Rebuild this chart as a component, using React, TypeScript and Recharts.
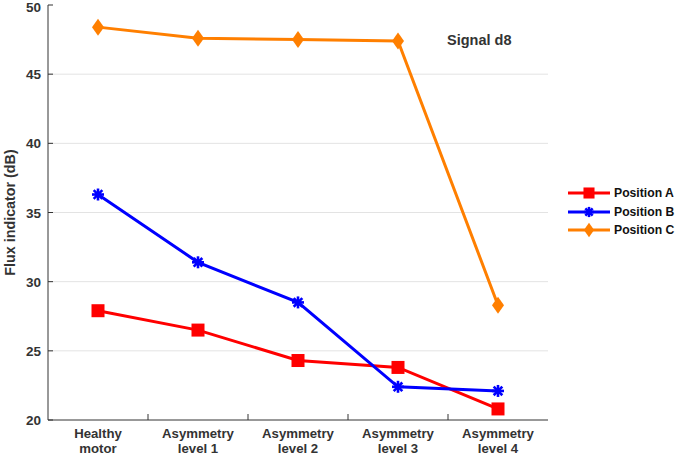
import React from "react";
import { LineChart, Line, XAxis, YAxis, CartesianGrid } from "recharts";

const categories = [
  ["Healthy", "motor"],
  ["Asymmetry", "level 1"],
  ["Asymmetry", "level 2"],
  ["Asymmetry", "level 3"],
  ["Asymmetry", "level 4"],
];
const positionA = [27.9, 26.5, 24.3, 23.8, 20.8];
const positionB = [36.3, 31.4, 28.5, 22.4, 22.1];
const positionC = [48.4, 47.6, 47.5, 47.4, 28.3];
const yTicks = [20, 25, 30, 35, 40, 45, 50];
const gridTicks = [25, 30, 35, 40, 45];
// x ticks: integer = category label, half = separator mark
const xTicks = [0, 0.5, 1, 1.5, 2, 2.5, 3, 3.5, 4];
const separators = [0.5, 1.5, 2.5, 3.5];

const FONT = '"Liberation Sans", Arial, Helvetica, sans-serif';
const TEXT = "#333333";
const FRAME = "#333333";

const data = categories.map((c, i) => ({
  x: i,
  A: positionA[i],
  B: positionB[i],
  C: positionC[i],
}));

type Shape = "square" | "asterisk" | "diamond";

const series: { key: "A" | "B" | "C"; name: string; color: string; shape: Shape }[] = [
  { key: "A", name: "Position A", color: "#ff0000", shape: "square" },
  { key: "B", name: "Position B", color: "#0000ff", shape: "asterisk" },
  { key: "C", name: "Position C", color: "#ff7f00", shape: "diamond" },
];

function Marker({ cx, cy, color, shape, scale = 1 }: { cx: number; cy: number; color: string; shape: Shape; scale?: number }) {
  if (shape === "square") {
    const s = 13 * scale;
    return <rect x={cx - s / 2} y={cy - s / 2} width={s} height={s} fill={color} />;
  }
  if (shape === "diamond") {
    const w = 6 * scale;
    const h = 8.5 * scale;
    return (
      <polygon
        points={`${cx},${cy - h} ${cx + w},${cy} ${cx},${cy + h} ${cx - w},${cy}`}
        fill={color}
      />
    );
  }
  const r = 6 * scale;
  const d = r * 0.72;
  return (
    <g stroke={color} strokeWidth={2.6} strokeLinecap="butt">
      <line x1={cx - r} y1={cy} x2={cx + r} y2={cy} />
      <line x1={cx} y1={cy - r} x2={cx} y2={cy + r} />
      <line x1={cx - d} y1={cy - d} x2={cx + d} y2={cy + d} />
      <line x1={cx - d} y1={cy + d} x2={cx + d} y2={cy - d} />
      <circle cx={cx} cy={cy} r={3} fill={color} stroke="none" />
    </g>
  );
}

function BottomTick(props: any) {
  const { x, y, payload } = props;
  const v = payload.value as number;
  if (separators.includes(v)) {
    return <line x1={x} x2={x} y1={y} y2={y - 6} stroke={FRAME} strokeWidth={1} />;
  }
  const [l1, l2] = categories[v];
  return (
    <g>
      <text x={x} y={y + 18} textAnchor="middle" fill={TEXT} fontSize={13.2} fontWeight="bold" fontFamily={FONT}>
        {l1}
      </text>
      <text x={x} y={y + 33} textAnchor="middle" fill={TEXT} fontSize={13.2} fontWeight="bold" fontFamily={FONT}>
        {l2}
      </text>
    </g>
  );
}

function TopTick(props: any) {
  const { x, y } = props;
  return <line x1={x} x2={x} y1={y} y2={y + 6} stroke={FRAME} strokeWidth={1} />;
}

function LeftTick(props: any) {
  const { x, y, payload } = props;
  // keep the top label inside the canvas
  const baseline = Math.max(y + 5, 12);
  return (
    <g>
      <line x1={x} x2={x + 5} y1={y} y2={y} stroke={FRAME} strokeWidth={1} />
      <text x={x - 7} y={baseline} textAnchor="end" fill={TEXT} fontSize={13.5} fontWeight="bold" fontFamily={FONT}>
        {payload.value}
      </text>
    </g>
  );
}

export default function App() {
  return (
    <div style={{ position: "absolute", left: 0, top: 0, width: 676, height: 462, background: "#fff", fontFamily: FONT }}>
      <LineChart width={676} height={462} data={data} margin={{ top: 5, right: 128, bottom: 0, left: 0 }}>
        <CartesianGrid horizontal vertical={false} horizontalValues={gridTicks} stroke="#e3e3e3" />
        <XAxis
          dataKey="x"
          type="number"
          domain={[-0.5, 4.5]}
          ticks={xTicks}
          interval={0}
          height={42}
          tickSize={0}
          tickMargin={0}
          tickLine={false}
          axisLine={{ stroke: FRAME }}
          tick={<BottomTick />}
          allowDataOverflow
        />
        <XAxis
          xAxisId="top"
          orientation="top"
          dataKey="x"
          type="number"
          domain={[-0.5, 4.5]}
          ticks={separators}
          interval={0}
          height={0}
          tickSize={0}
          tickMargin={0}
          tickLine={false}
          axisLine={{ stroke: FRAME }}
          tick={<TopTick />}
        />
        <YAxis
          domain={[20, 50]}
          ticks={yTicks}
          interval={0}
          width={48}
          tickSize={0}
          tickMargin={0}
          tickLine={false}
          axisLine={{ stroke: FRAME }}
          tick={<LeftTick />}
          label={{
            value: "Flux indicator (dB)",
            angle: -90,
            position: "insideLeft",
            offset: 10,
            style: { textAnchor: "middle", fontSize: 14.3, fontWeight: "bold", fill: TEXT, fontFamily: FONT },
          }}
        />
        <YAxis
          yAxisId="right"
          orientation="right"
          domain={[20, 50]}
          width={0}
          tick={false}
          tickLine={false}
          axisLine={{ stroke: FRAME }}
        />
        {series.map((s) => (
          <Line
            key={s.key}
            dataKey={s.key}
            name={s.name}
            stroke={s.color}
            strokeWidth={3}
            isAnimationActive={false}
            dot={(p: any) => (
              <Marker key={`${s.key}-${p.index}`} cx={p.cx} cy={p.cy} color={s.color} shape={s.shape} />
            )}
            activeDot={false}
          />
        ))}
      </LineChart>

      <div
        style={{
          position: "absolute",
          left: 447,
          top: 32,
          fontSize: 14.5,
          fontWeight: "bold",
          color: TEXT,
          whiteSpace: "nowrap",
        }}
      >
        Signal d8
      </div>

      <div style={{ position: "absolute", left: 566, top: 184 }}>
        {series.map((s) => (
          <div key={s.key} style={{ display: "flex", alignItems: "center", height: 18.5 }}>
            <svg width={46} height={18} style={{ display: "block" }}>
              <line x1={2} x2={44} y1={9} y2={9} stroke={s.color} strokeWidth={3} />
              <Marker cx={23} cy={9} color={s.color} shape={s.shape} scale={0.85} />
            </svg>
            <span style={{ fontSize: 12.2, fontWeight: "bold", color: "#111", marginLeft: 2, whiteSpace: "nowrap" }}>
              {s.name}
            </span>
          </div>
        ))}
      </div>
    </div>
  );
}
